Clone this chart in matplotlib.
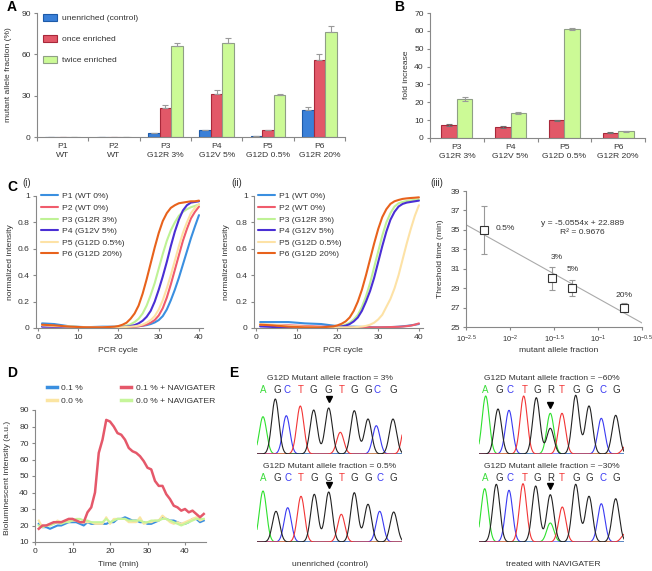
import numpy as np
import matplotlib
matplotlib.use('Agg')
import matplotlib.pyplot as plt
from matplotlib.lines import Line2D
from matplotlib.ticker import NullLocator

plt.rcParams['font.family'] = ['Liberation Sans', 'DejaVu Sans']
plt.rcParams['mathtext.fontset'] = 'custom'
plt.rcParams['mathtext.rm'] = 'Liberation Sans'
plt.rcParams['mathtext.it'] = 'Liberation Sans:italic'
plt.rcParams['mathtext.bf'] = 'Liberation Sans:bold'
plt.rcParams['font.size'] = 6.1
plt.rcParams['text.color'] = '#333333'
plt.rcParams['axes.labelcolor'] = '#333333'
plt.rcParams['xtick.color'] = '#888888'
plt.rcParams['ytick.color'] = '#888888'
plt.rcParams['xtick.labelcolor'] = '#333333'
plt.rcParams['ytick.labelcolor'] = '#333333'
plt.rcParams['axes.edgecolor'] = '#888888'
plt.rcParams['axes.linewidth'] = 0.8

FS = 6.1

# ---------------- DATA ----------------
# Panel A
a_groups = ['P1\nWT', 'P2\nWT', 'P3\nG12R 3%', 'P4\nG12V 5%', 'P5\nG12D 0.5%', 'P6\nG12R 20%']
a_series = ['unenriched (control)', 'once enriched', 'twice enriched']
a_unenriched = [0.3, 0.3, 2.9, 4.8, 0.5, 19.8]
a_unenriched_err = [0, 0, 0.3, 0.3, 0.1, 2.0]
a_once = [0.3, 0.3, 21.0, 31.0, 4.8, 56.1]
a_once_err = [0, 0, 2.3, 3.4, 0.3, 4.0]
a_twice = [0.3, 0.3, 65.8, 68.2, 30.4, 76.2]
a_twice_err = [0, 0, 2.4, 4.0, 0.6, 4.5]

# Panel B
b_groups = ['P3\nG12R 3%', 'P4\nG12V 5%', 'P5\nG12D 0.5%', 'P6\nG12R 20%']
b_once = [7.1, 6.1, 10.0, 2.9]
b_once_err = [0.6, 0.4, 0.3, 0.3]
b_twice = [21.9, 13.8, 61.0, 3.7]
b_twice_err = [1.0, 0.5, 0.5, 0.4]

# Panel C (i) and (ii): amplification curves
c_labels = ['P1 (WT 0%)', 'P2 (WT 0%)', 'P3 (G12R 3%)', 'P4 (G12V 5%)', 'P5 (G12D 0.5%)', 'P6 (G12D 20%)']
c_cycles = [1, 4, 8, 12, 16, 19, 20, 21, 22, 23, 24, 25, 26, 27, 28, 29, 30,
            31, 32, 33, 34, 35, 36, 37, 38, 39, 40]
c1_p1 = [0.035, 0.03, 0.012, 0.006, 0.01, 0.01, 0.01, 0.01, 0.01, 0.01, 0.012, 0.014, 0.017, 0.022,
         0.03, 0.042, 0.06, 0.09, 0.14, 0.21, 0.29, 0.38, 0.48, 0.58, 0.68, 0.77, 0.855]
c1_p2 = [0.015, 0.01, 0.005, 0.003, 0.003, 0.003, 0.003, 0.004, 0.005, 0.007, 0.01, 0.013, 0.018, 0.027,
         0.04, 0.06, 0.095, 0.15, 0.23, 0.33, 0.44, 0.55, 0.66, 0.75, 0.83, 0.88, 0.92]
c1_p3 = [0.02, 0.015, 0.01, 0.005, 0.005, 0.008, 0.01, 0.012, 0.018, 0.028, 0.045, 0.07, 0.11, 0.17,
         0.25, 0.34, 0.45, 0.56, 0.66, 0.74, 0.8, 0.85, 0.88, 0.9, 0.915, 0.925, 0.935]
c1_p4 = [0.01, 0.01, 0.005, 0.005, 0.005, 0.005, 0.005, 0.008, 0.01, 0.015, 0.022, 0.035, 0.055, 0.085,
         0.13, 0.2, 0.29, 0.39, 0.5, 0.62, 0.73, 0.82, 0.89, 0.93, 0.95, 0.955, 0.96]
c1_p5 = [0.02, 0.015, 0.01, 0.005, 0.005, 0.005, 0.005, 0.006, 0.008, 0.01, 0.013, 0.018, 0.026, 0.04,
         0.06, 0.09, 0.14, 0.21, 0.3, 0.4, 0.51, 0.62, 0.72, 0.8, 0.87, 0.91, 0.94]
c1_p6 = [0.025, 0.02, 0.01, 0.005, 0.005, 0.01, 0.015, 0.025, 0.04, 0.07, 0.11, 0.17, 0.26, 0.37,
         0.49, 0.61, 0.72, 0.81, 0.87, 0.91, 0.93, 0.945, 0.95, 0.955, 0.96, 0.96, 0.965]

c2_p1 = [0.045, 0.045, 0.045, 0.035, 0.03, 0.018, 0.015, 0.013, 0.012, 0.01, 0.01, 0.009, 0.008, 0.007,
         0.006, 0.005, 0.005, 0.005, 0.006, 0.007, 0.008, 0.01, 0.013, 0.016, 0.02, 0.025, 0.03]
c2_p2 = [0.025, 0.022, 0.02, 0.015, 0.01, 0.007, 0.006, 0.005, 0.005, 0.005, 0.005, 0.005, 0.005, 0.005,
         0.005, 0.005, 0.005, 0.006, 0.006, 0.007, 0.008, 0.009, 0.011, 0.014, 0.018, 0.025, 0.035]
c2_p3 = [0.02, 0.015, 0.01, 0.005, 0.005, 0.01, 0.012, 0.016, 0.025, 0.04, 0.065, 0.1, 0.16, 0.24,
         0.34, 0.46, 0.58, 0.7, 0.8, 0.87, 0.92, 0.945, 0.955, 0.962, 0.967, 0.971, 0.975]
c2_p4 = [0.012, 0.008, 0.005, 0.005, 0.008, 0.01, 0.01, 0.012, 0.018, 0.03, 0.05, 0.08, 0.13, 0.2,
         0.28, 0.38, 0.5, 0.62, 0.73, 0.82, 0.88, 0.92, 0.94, 0.95, 0.955, 0.96, 0.965]
c2_p5 = [0.03, 0.025, 0.015, 0.01, 0.005, 0.005, 0.005, 0.005, 0.005, 0.005, 0.006, 0.008, 0.011, 0.016,
         0.025, 0.04, 0.065, 0.1, 0.16, 0.22, 0.3, 0.4, 0.52, 0.64, 0.75, 0.85, 0.93]
c2_p6 = [0.025, 0.02, 0.01, 0.005, 0.005, 0.012, 0.02, 0.032, 0.05, 0.08, 0.13, 0.2, 0.29, 0.4,
         0.52, 0.64, 0.75, 0.84, 0.9, 0.94, 0.96, 0.97, 0.978, 0.982, 0.985, 0.987, 0.99]

# Panel C (iii)
c3_fraction = [0.005, 0.03, 0.05, 0.2]
c3_time = [35.0, 30.0, 29.0, 27.0]
c3_err = [2.5, 1.2, 0.8, 0.5]
c3_labels = ['0.5%', '3%', '5%', '20%']
c3_slope = -5.0554
c3_intercept = 22.889
c3_r2 = 0.9676

# Panel D
d_time = list(range(1, 46))
d_01 = [21, 19, 19, 18, 19, 20, 20, 21, 22, 22, 22, 21, 20, 22, 21, 21, 21, 21, 21, 22, 22, 24, 24,
        25, 24, 23, 23, 22, 22, 21, 21, 22, 23, 25, 24, 23, 23, 22, 21, 21, 22, 24, 24, 22, 23]
d_00 = [23, 19, 20, 21, 21, 23, 22, 22, 23, 23, 23, 22, 22, 22, 22, 21, 21, 21, 25, 21, 24, 24, 24,
        24, 22, 22, 22, 25, 21, 22, 22, 23, 23, 26, 24, 22, 21, 22, 21, 22, 23, 24, 25, 23, 24]
d_01_nav = [18, 20, 20, 21, 22, 22, 22, 23, 24, 24, 23, 22, 22, 28, 31, 40, 64, 72, 84, 83, 80, 76, 75,
            72, 67, 65, 64, 62, 59, 55, 54, 47, 44, 44, 39, 36, 32, 31, 29, 30, 28, 29, 27, 25, 27]
d_00_nav = [20, 19, 20, 20, 21, 22, 21, 22, 22, 23, 24, 24, 23, 23, 22, 22, 22, 22, 24, 22, 23, 24, 24,
            24, 23, 23, 23, 23, 22, 22, 23, 23, 23, 24, 24, 23, 22, 21, 20, 21, 22, 23, 24, 24, 24]

# Panel E: Sanger traces (peak channel, position, height)
e_tl_title = 'G12D Mutant allele fraction = 3%'
e_tl_letters = ['A', 'G', 'C', 'T', 'G', 'G', 'T', 'G', 'G', 'C', 'G']
e_tl_letter_pos = [6.5, 20, 30, 43.5, 56.7, 71.7, 85, 97.3, 111, 120, 136.7]
e_tl_ch = ['A', 'G', 'C', 'T', 'G', 'G', 'T', 'G', 'G', 'C', 'G', 'T']
e_tl_pos = [6, 18.3, 29.3, 43.3, 56.7, 71.7, 83.3, 97.3, 111, 119.3, 136, 149]
e_tl_h = [37.3, 55, 38.3, 48, 44, 46, 21.7, 43.3, 35, 28.3, 35, 35]

e_bl_title = 'G12D Mutant allele fraction = 0.5%'
e_bl_letters = ['A', 'G', 'C', 'T', 'G', 'G', 'T', 'G', 'G', 'C', 'G']
e_bl_letter_pos = [6.5, 20, 31, 44, 57.3, 71.7, 85, 97.3, 111, 123, 136.7]
e_bl_ch = ['A', 'G', 'C', 'T', 'G', 'G', 'T', 'G', 'G', 'C', 'G']
e_bl_pos = [6, 19, 30.7, 44, 57.3, 71.7, 84.3, 97.3, 111, 122.7, 136.7]
e_bl_h = [51, 30.7, 34.3, 45.7, 47.7, 50, 27.7, 49.3, 37.7, 30.7, 30]

e_tr_title = 'G12D Mutant allele fraction = ~60%'
e_tr_letters = ['A', 'G', 'C', 'T', 'G', 'R', 'T', 'G', 'G', 'C', 'G']
e_tr_letter_pos = [6.7, 20, 31.3, 45.7, 58, 71.3, 83, 97.3, 110.7, 124, 137.3]
e_tr_ch = ['A', 'G', 'C', 'T', 'G', 'A', 'G', 'T', 'G', 'G', 'C', 'G', 'T']
e_tr_pos = [6.7, 19, 30, 44.7, 57.3, 71.3, 71.3, 83, 96.7, 110, 122.3, 136.7, 147]
e_tr_h = [58, 45, 43.7, 58, 56.3, 40.7, 25.7, 40.7, 58.7, 48, 35.7, 38.7, 8]

e_br_title = 'G12D Mutant allele fraction = ~30%'
e_br_letters = ['A', 'G', 'C', 'T', 'G', 'R', 'T', 'G', 'G', 'C', 'G']
e_br_letter_pos = [6.7, 20, 31.3, 45.7, 58, 71.3, 83, 97.3, 110.7, 124, 137.3]
e_br_ch = ['A', 'G', 'C', 'T', 'G', 'G', 'A', 'T', 'G', 'G', 'C', 'G', 'T']
e_br_pos = [5.7, 17.3, 30, 44, 56.7, 71.3, 71.3, 83.3, 96.7, 110, 122.3, 136.7, 146]
e_br_h = [53.3, 57.7, 51.7, 58.3, 56, 47.3, 19, 35, 57.7, 45.7, 38.3, 43.3, 8]

e_captions = ['unenriched (control)', 'treated with NAVIGATER']

# ---------------- FIGURE ----------------
W, H = 652, 571
fig = plt.figure(figsize=(W / 100, H / 100), dpi=100)


def rect(x0, y0, x1, y1):
    return [x0 / W, 1 - y1 / H, (x1 - x0) / W, (y1 - y0) / H]


def style(ax):
    for s in ['top', 'right']:
        ax.spines[s].set_visible(False)
    ax.tick_params(direction='out', length=2.5, width=0.8, labelsize=FS, pad=2)


def ftext(x, y, s, **kw):
    fig.text(x / W, 1 - y / H, s, **kw)


# Panel A
axA = fig.add_axes(rect(37, 13, 345, 137))
style(axA)
xa = np.arange(len(a_groups))
wa = 0.225
colsA = ['#3a80d8', '#e25868', '#ccfa96']
edgA = ['#1d5aa8', '#a8283a', '#8f9f85']
for i, (v, e) in enumerate([(a_unenriched, a_unenriched_err), (a_once, a_once_err), (a_twice, a_twice_err)]):
    axA.bar(xa + (i - 1) * wa, v, wa, color=colsA[i], edgecolor=edgA[i], linewidth=0.8,
            yerr=[np.zeros(len(e)), e], label=a_series[i],
            error_kw=dict(ecolor='#9a9a9a', capsize=2, elinewidth=0.8, capthick=0.8))
axA.set_xlim(-0.5, 5.5)
axA.set_ylim(0, 90)
axA.set_yticks([0, 30, 60, 90])
axA.set_xticks(xa)
axA.set_xticklabels(a_groups, linespacing=1.5)
axA.tick_params(axis='x', length=0, pad=4)
axA.set_xticks(np.arange(-0.5, 6, 1), minor=True)
axA.tick_params(axis='x', which='minor', length=3, width=0.8)
axA.legend(loc='upper left', bbox_to_anchor=(43 / W, 1 - 14 / H), bbox_transform=fig.transFigure,
           frameon=False, fontsize=FS, handlelength=1.6, handleheight=0.85, labelspacing=1.5,
           borderpad=0, borderaxespad=0, handletextpad=0.6)
ftext(9, 75, 'mutant allele fraction (%)', rotation=90, ha='center', va='center', fontsize=FS)
ftext(7, 7, 'A', fontsize=10, fontweight='bold', ha='left', va='center', color='black')

# Panel B
axB = fig.add_axes(rect(430, 13, 645, 138))
style(axB)
xb = np.arange(len(b_groups))
wb = 0.29
axB.bar(xb - wb / 2, b_once, wb, color=colsA[1], edgecolor=edgA[1], linewidth=0.8, yerr=b_once_err,
        error_kw=dict(ecolor='#707070', capsize=2, elinewidth=0.8, capthick=0.8))
axB.bar(xb + wb / 2, b_twice, wb, color=colsA[2], edgecolor=edgA[2], linewidth=0.8, yerr=b_twice_err,
        error_kw=dict(ecolor='#9a9a9a', capsize=2, elinewidth=0.8, capthick=0.8))
axB.set_xlim(-0.5, 3.5)
axB.set_ylim(0, 70)
axB.set_yticks(range(0, 71, 10))
axB.set_xticks(xb)
axB.set_xticklabels(b_groups, linespacing=1.5)
axB.tick_params(axis='x', length=0, pad=4)
axB.set_xticks(np.arange(-0.5, 4, 1), minor=True)
axB.tick_params(axis='x', which='minor', length=3, width=0.8)
ftext(406, 75, 'fold increase', rotation=90, ha='center', va='center', fontsize=FS)
ftext(394, 7, 'B', fontsize=10, fontweight='bold', ha='left', va='center', color='black')

# Panel C (i), (ii)
c_colors = ['#3a8fe0', '#f05c6c', '#bff295', '#4a2fd4', '#fde2a6', '#e8621c']
for rx, data, lx, yl_x, xl_x, tag, tx in [
        ((36, 196, 203, 328), [c1_p1, c1_p2, c1_p3, c1_p4, c1_p5, c1_p6], 41, 11, 118, '(i)', 22),
        ((254, 196, 423, 328), [c2_p1, c2_p2, c2_p3, c2_p4, c2_p5, c2_p6], 258, 227, 343, '(ii)', 231)]:
    ax = fig.add_axes(rect(*rx))
    style(ax)
    for k in range(6):
        ax.plot(c_cycles, data[k], color=c_colors[k], lw=1.5, label=c_labels[k], solid_capstyle='round')
    ax.set_xlim(-0.5, 41)
    ax.set_ylim(0, 1)
    ax.set_xticks([0, 10, 20, 30, 40])
    ax.set_yticks([0, 0.2, 0.4, 0.6, 0.8, 1])
    ax.set_yticklabels(['0', '0.2', '0.4', '0.6', '0.8', '1'])
    ax.legend(loc='upper left', bbox_to_anchor=(lx / W, 1 - 192.5 / H), bbox_transform=fig.transFigure,
              frameon=False, fontsize=FS, handlelength=2.0, labelspacing=0.43, borderpad=0,
              borderaxespad=0, handletextpad=0.5)
    ftext(yl_x, 262, 'normalized intensity', rotation=90, ha='center', va='center', fontsize=FS)
    ftext(xl_x, 351, 'PCR cycle', ha='center', va='center', fontsize=FS)
    ftext(tx, 183, tag, ha='left', va='center', fontsize=7)
ftext(7, 187, 'C', fontsize=10, fontweight='bold', ha='left', va='center', color='black')

# Panel C (iii)
ax3 = fig.add_axes(rect(466, 191, 642, 327))
style(ax3)
ax3.set_xscale('log')
xl = [10 ** -2.5, 10 ** -0.5]
ax3.plot(xl, [c3_slope * np.log10(v) + c3_intercept for v in xl], color='#aaaaaa', lw=0.8, zorder=1)
ax3.errorbar(c3_fraction, c3_time, yerr=c3_err, fmt='s', mfc='white', mec='#333333', ms=5.5, mew=0.8,
             ecolor='#999999', elinewidth=0.8, capsize=2.5, capthick=0.8, zorder=3)
ax3.set_xlim(xl)
ax3.set_ylim(25, 39)
ax3.set_yticks(range(25, 40, 2))
ax3.set_xticks([10 ** -2.5, 10 ** -2, 10 ** -1.5, 10 ** -1, 10 ** -0.5])
ax3.set_xticklabels([r'$10^{-2.5}$', r'$10^{-2}$', r'$10^{-1.5}$', r'$10^{-1}$', r'$10^{-0.5}$'], fontsize=5.5)
ax3.xaxis.set_minor_locator(NullLocator())
lab_pos = [(0.0068, 35.1, 'left'), (0.034, 32.2, 'center'), (0.052, 30.9, 'center'), (0.2, 28.2, 'center')]
for (lx_, ly_, ha_), s in zip(lab_pos, c3_labels):
    ax3.text(lx_, ly_, s, ha=ha_, va='center', fontsize=FS)
ax3.text(0.066, 35.7, 'y = %.4fx + %.3f' % (c3_slope, c3_intercept), ha='center', va='center', fontsize=FS)
ax3.text(0.066, 34.7, 'R² = %.4f' % c3_r2, ha='center', va='center', fontsize=FS)
ftext(441, 259, 'Threshold time (min)', rotation=90, ha='center', va='center', fontsize=FS)
ftext(559, 351, 'mutant allele fraction', ha='center', va='center', fontsize=FS)
ftext(430, 183, '(iii)', ha='left', va='center', fontsize=7)

# Panel D
axD = fig.add_axes(rect(35, 410, 206, 542))
style(axD)
lD1, = axD.plot(d_time, d_01, color='#3a8fe0', lw=1.5)
lD2, = axD.plot(d_time, d_00, color='#fbe5a2', lw=1.5)
lD4, = axD.plot(d_time, d_00_nav, color='#c6f59a', lw=1.5)
lD3, = axD.plot(d_time, d_01_nav, color='#e5586a', lw=1.8)
axD.set_xlim(0, 45.6)
axD.set_ylim(10, 90)
axD.set_yticks(range(10, 91, 10))
axD.set_xticks([0, 10, 20, 30, 40])
hD = [Line2D([], [], color=l.get_color(), lw=2.5) for l in (lD1, lD2, lD3, lD4)]
axD.legend(hD, ['0.1 %', '0.0 %', '0.1 % + NAVIGATER', '0.0 % + NAVIGATER'], ncol=2,
           loc='upper left', bbox_to_anchor=(47 / W, 1 - 384.5 / H), bbox_transform=fig.transFigure,
           frameon=False, fontsize=FS, handlelength=1.2, labelspacing=0.6, borderpad=0,
           borderaxespad=0, handletextpad=0.5, columnspacing=4.5)
ftext(8, 478, 'Bioluminescent intensity (a.u.)', rotation=90, ha='center', va='center', fontsize=FS)
ftext(118, 565, 'Time (min)', ha='center', va='center', fontsize=FS)
ftext(7, 373, 'D', fontsize=10, fontweight='bold', ha='left', va='center', color='black')

# Panel E
trace_col = {'A': '#2ee02e', 'G': '#222222', 'C': '#3a3af2', 'T': '#f23535'}
letter_col = {'A': '#3ddc3d', 'G': '#333333', 'C': '#3a3af2', 'T': '#f23535', 'R': '#333333'}
sig = 3.6
xs = np.linspace(0, 145, 800)
for (x0, yb, title, letters, lpos, ch, pos, hh, arr_y) in [
        (257, 454, e_tl_title, e_tl_letters, e_tl_letter_pos, e_tl_ch, e_tl_pos, e_tl_h, 55),
        (257, 542, e_bl_title, e_bl_letters, e_bl_letter_pos, e_bl_ch, e_bl_pos, e_bl_h, 57),
        (479, 454, e_tr_title, e_tr_letters, e_tr_letter_pos, e_tr_ch, e_tr_pos, e_tr_h, 49),
        (479, 542, e_br_title, e_br_letters, e_br_letter_pos, e_br_ch, e_br_pos, e_br_h, 56)]:
    ax = fig.add_axes(rect(x0, yb - 82, x0 + 145, yb))
    ax.set_xlim(0, 145)
    ax.set_ylim(0, 82)
    ax.axis('off')
    for base in ['A', 'C', 'T', 'G']:
        yv = np.zeros_like(xs)
        for c_, p_, h_ in zip(ch, pos, hh):
            if c_ == base:
                yv = yv + h_ * np.exp(-(xs - p_) ** 2 / (2 * sig ** 2))
        ax.plot(xs, yv, color=trace_col[base], lw=0.8)
    ax.text(72.5, 75, title, ha='center', va='center', fontsize=FS)
    for L, p_ in zip(letters, lpos):
        ax.text(p_, 64, L, ha='center', va='center', fontsize=7, color=letter_col[L])
    ax.plot([lpos[5]], [arr_y], marker='v', color='black', ms=4.5, clip_on=False)
ftext(330, 565, e_captions[0], ha='center', va='center', fontsize=FS)
ftext(553, 565, e_captions[1], ha='center', va='center', fontsize=FS)
ftext(229, 373, 'E', fontsize=10, fontweight='bold', ha='left', va='center', color='black')

fig.savefig('out.png', dpi=100)
